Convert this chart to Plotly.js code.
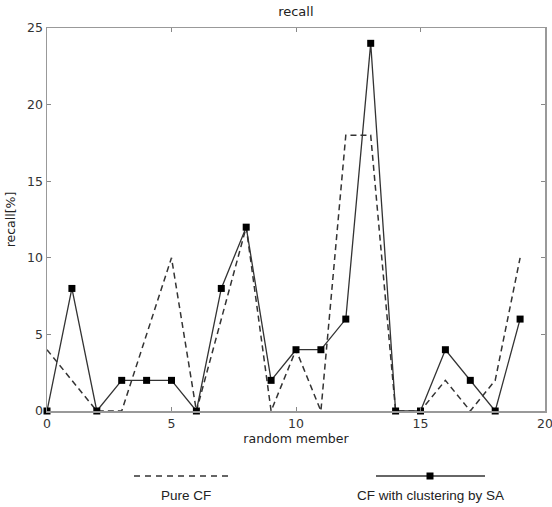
<!DOCTYPE html>
<html><head><meta charset="utf-8">
<script src="https://cdn.plot.ly/plotly-3.0.1.min.js"></script>
<style>html,body{margin:0;padding:0;background:#fff}#chart{width:552px;height:507px}</style>
</head><body><div id="chart"></div>
<script>
const members = [0,1,2,3,4,5,6,7,8,9,10,11,12,13,14,15,16,17,18,19];
const pureCF = [4,2,0,0,5,10,0,6,12,0,4,0,18,18,0,0,2,0,2,10];
const cfClusterSA = [0,8,0,2,2,2,0,8,12,2,4,4,6,24,0,0,4,2,0,6];
const xTicks = [0,5,10,15,20];
const yTicks = [0,5,10,15,20,25];
const seriesNames = ['Pure CF','CF with clustering by SA'];

const lineCol = '#333333';
const traces = [
  {x: members, y: pureCF, name: seriesNames[0], type:'scatter', mode:'lines',
   line:{color:lineCol, width:1.5, dash:'6px,4px'}, showlegend:false, cliponaxis:false},
  {x: members, y: cfClusterSA, name: seriesNames[1], type:'scatter', mode:'lines+markers',
   line:{color:lineCol, width:1.3}, marker:{symbol:'square', size:7, color:'#000'}, showlegend:false, cliponaxis:false}
];

const axFont = {family:'DejaVu Sans, sans-serif', size:12.5, color:'#333'};
const layout = {
  width:552, height:507,
  margin:{l:47, r:7, t:28, b:96},
  paper_bgcolor:'#fff', plot_bgcolor:'#fff',
  title:{text:'recall', font:{family:'DejaVu Sans, sans-serif', size:13, color:'#222'}, x:0.536, xanchor:'center', y:0.977, yanchor:'middle'},
  xaxis:{range:[0,20], tickvals:xTicks, ticktext:xTicks.map(String), ticks:'inside', ticklen:4, tickcolor:'#888',
    showline:true, linecolor:'#999', linewidth:1.5, mirror:'ticks', showgrid:false, zeroline:false, ticklabeloverflow:'allow',
    tickfont:axFont, title:{text:'random member', font:{family:'DejaVu Sans, sans-serif', size:12.5, color:'#222'}, standoff:2}},
  yaxis:{range:[0,25], tickvals:yTicks, ticktext:yTicks.map(String), ticks:'inside', ticklen:4, tickcolor:'#888',
    showline:true, linecolor:'#999', linewidth:1.5, mirror:'ticks', showgrid:false, zeroline:false, ticklabeloverflow:'allow',
    tickfont:axFont, title:{text:'recall[%]', font:{family:'DejaVu Sans, sans-serif', size:12.5, color:'#222'}, standoff:8}},
  shapes:[
    {type:'line', xref:'paper', yref:'paper', x0:(134-47)/498, x1:(232-47)/498, y0:(411-476)/383, y1:(411-476)/383,
     line:{color:lineCol, width:1.3, dash:'6px,5px'}},
    {type:'line', xref:'paper', yref:'paper', x0:(376-47)/498, x1:(485-47)/498, y0:(411-476)/383, y1:(411-476)/383,
     line:{color:lineCol, width:1.3}},
    {type:'rect', xref:'paper', yref:'paper', x0:(426.5-47)/498, x1:(433.5-47)/498, y0:(411-472.5)/383, y1:(411-479.5)/383,
     fillcolor:'#000', line:{width:0}}
  ],
  annotations:[
    {text:seriesNames[0], xref:'paper', yref:'paper', x:(186-47)/498, y:(411-495)/383, xanchor:'center', yanchor:'middle', showarrow:false,
     font:{family:'Liberation Sans, Arial, sans-serif', size:13.5, color:'#222'}},
    {text:seriesNames[1], xref:'paper', yref:'paper', x:(430-47)/498, y:(411-495)/383, xanchor:'center', yanchor:'middle', showarrow:false,
     font:{family:'Liberation Sans, Arial, sans-serif', size:13.5, color:'#222'}}
  ]
};
Plotly.newPlot('chart', traces, layout, {displayModeBar:false, staticPlot:true});
</script></body></html>
